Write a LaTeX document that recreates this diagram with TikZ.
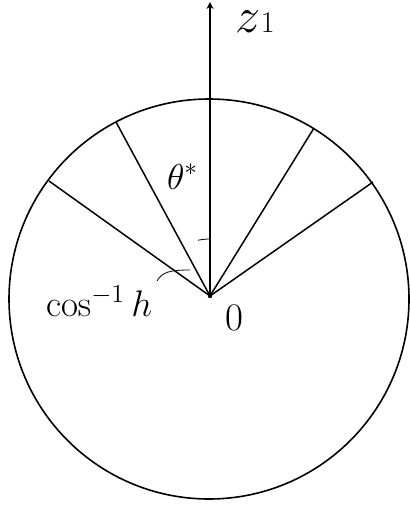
\RequirePackage{fix-cm}
\documentclass[tikz,border=0pt]{standalone}
\usetikzlibrary{arrows.meta}
\begin{document}
\begin{tikzpicture}[x=0.5pt,y=-0.5pt,
  lbl/.style={inner sep=0pt, outer sep=0pt, anchor=base west},
  rim/.style={line width=0.8pt},
  ray/.style={line width=0.75pt},
  axisline/.style={line width=0.8pt, -{Stealth[length=3.5pt,width=3.5pt]}},
  thinarc/.style={line width=0.4pt}]
\useasboundingbox (0,0) rectangle (409,508);
\coordinate (c) at (209,299);
\coordinate (o) at (210,296);
\coordinate (top) at (210,2);
\coordinate (r1) at (49,181);
\coordinate (r2) at (116,122);
\coordinate (r3) at (314,128);
\coordinate (r4) at (373,182);
\coordinate (a1) at (157,281);
\coordinate (a2) at (190,270);
% circle
\draw[rim] (c) circle[radius=200];
% rays
\draw[ray] (o) -- (r1);
\draw[ray] (o) -- (r2);
\draw[ray] (o) -- (r3);
\draw[ray] (o) -- (r4);
% axis
\draw[axisline] (o) -- (top);
\fill (o) circle[radius=2.2];
% angle marks
\draw[thinarc] (o) ++(-90:57) arc[start angle=-90, end angle=-102, radius=57];
\draw[thinarc] (a1) .. controls (162,272) and (170,270) .. (a2);
% labels
\node[lbl, font=\fontsize{25}{27}\selectfont] (zlab) at (235,33) {$z$\kern0.5pt\fontsize{15}{15}\selectfont 1};
\node[lbl, font=\fontsize{18}{20}\selectfont] (theta) at (167,189) {$\theta^*$};
\node[lbl, font=\fontsize{18.5}{20}\selectfont] (coslab) at (46,316) {$\cos^{-1}h$};
\node[lbl, font=\fontsize{19.5}{21}\selectfont] (zero) at (225,330) {$0$};
\end{tikzpicture}
\end{document}
